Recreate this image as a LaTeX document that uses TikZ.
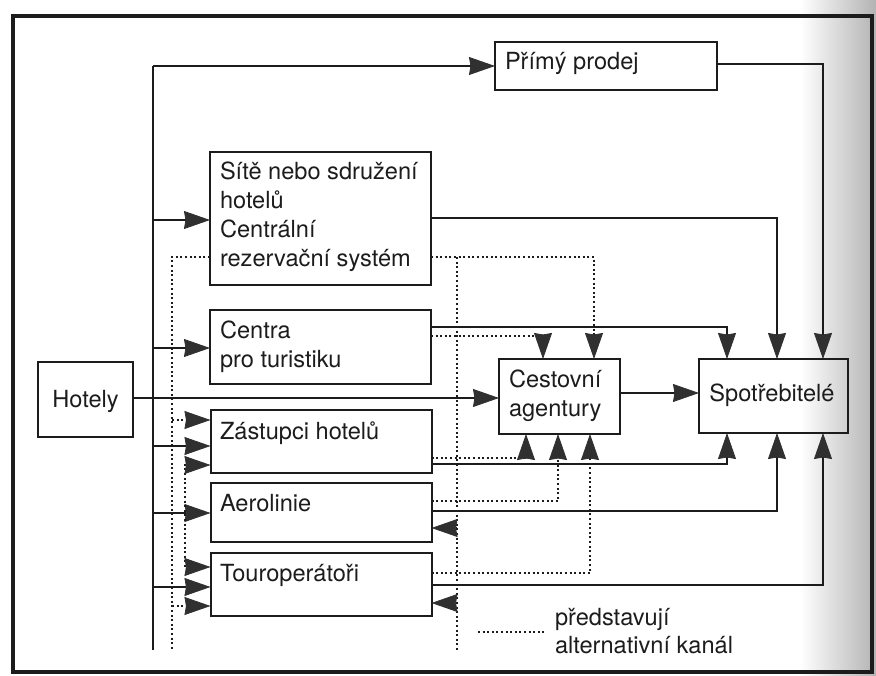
\documentclass[tikz,border=0pt]{standalone}
\usepackage{fontspec}
\setmainfont{TeX Gyre Heros}
\usetikzlibrary{arrows.meta}
\definecolor{ink}{HTML}{1C1C1C}
\definecolor{tipgray}{HTML}{303030}
\begin{document}
\begin{tikzpicture}[x=1pt,y=-1pt,
  box/.style={draw=ink, line width=2pt, rectangle, inner sep=0pt, outer sep=0pt},
  txt/.style={inner sep=0pt, outer sep=0pt, text=ink, font=\fontsize{23.6}{29}\selectfont},
  tip/.style={-{Stealth[length=26pt,width=18pt,inset=1.5pt,line width=0.8pt,color=tipgray]}},
  tipboth/.style={{Stealth[length=26pt,width=18pt,inset=1.5pt,line width=0.8pt,color=tipgray]}-{Stealth[length=26pt,width=18pt,inset=1.5pt,line width=0.8pt,color=tipgray]}},
  conn/.style={draw=ink, line width=2pt},
  alt/.style={draw=ink, line width=2pt, dash pattern=on 2pt off 2.6pt},
]
\useasboundingbox (0,0) rectangle (876,676);

% page edge shadow and outer frame
\shade[left color=white, right color=black!30] (800,0) rectangle (876,676);
\draw[line width=3.5pt, draw=ink] (13,16) rectangle (872,672);

% boxes
\node[box, minimum width=222pt, minimum height=48pt]  (pp)  at (606,66) {};
\node[box, minimum width=221pt, minimum height=133pt] (sit) at (320.5,218.5) {};
\node[box, minimum width=221pt, minimum height=74pt]  (cen) at (320.5,347) {};
\node[box, minimum width=95pt,  minimum height=75pt]  (hot) at (85.5,399.5) {};
\node[box, minimum width=221pt, minimum height=63pt]  (zas) at (321,441.5) {};
\node[box, minimum width=221pt, minimum height=59pt]  (aer) at (321,512.5) {};
\node[box, minimum width=221pt, minimum height=63pt]  (tou) at (321,584.5) {};
\node[box, minimum width=121pt, minimum height=75pt]  (ces) at (559.5,396.5) {};
\node[box, minimum width=149pt, minimum height=74pt]  (spo) at (773.5,396) {};

% box texts
\node[txt, anchor=base west] (ppT)   at (505,70)  {Přímý prodej};
\node[txt, anchor=base west] (sitT1) at (220,180) {Sítě nebo sdružení};
\node[txt, anchor=base west] (sitT2) at (220,209) {hotelů};
\node[txt, anchor=base west] (sitT3) at (220,238) {Centrální};
\node[txt, anchor=base west] (sitT4) at (220,267) {rezervační systém};
\node[txt, anchor=base west] (cenT1) at (220,339) {Centra};
\node[txt, anchor=base west] (cenT2) at (220,368) {pro turistiku};
\node[txt, anchor=base]      (hotT)  at (85.5,407) {Hotely};
\node[txt, anchor=base west] (zasT)  at (220,439) {Zástupci hotelů};
\node[txt, anchor=base west] (aerT)  at (220,511) {Aerolinie};
\node[txt, anchor=base west] (touT)  at (220,581) {Touroperátoři};
\node[txt, anchor=base west] (cesT1) at (509,388) {Cestovní};
\node[txt, anchor=base west] (cesT2) at (509,417) {agentury};
\node[txt, anchor=base]      (spoT)  at (772,402) {Spotřebitelé};

% hotel distribution bus
\coordinate (busTop) at (153,66);
\coordinate (busBot) at (153,650);
\draw[conn] (busBot) -- (busTop);
\draw[conn,tip] (busTop) -- (pp.west);
\draw[conn,tip] (busBot |- 0,220) -- (sit.west |- 0,220);
\draw[conn,tip] (busBot |- 0,348) -- (cen.west |- 0,348);
\draw[conn,tip] (busBot |- 0,446) -- (zas.west |- 0,446);
\draw[conn,tip] (busBot |- 0,513) -- (aer.west |- 0,513);
\draw[conn,tip] (busBot |- 0,587) -- (tou.west |- 0,587);
\draw[conn,tip] (hot.east |- 0,398) -- (ces.west |- 0,398);

% solid channels to consumers
\draw[conn,tip] (pp.east |- 0,64)   -| (spo.north -| 823,0);
\draw[conn,tip] (sit.east |- 0,218) -| (spo.north -| 777,0);
\draw[conn,tip] (cen.east |- 0,327) -| (spo.north -| 727,0);
\draw[conn,tip] (zas.east |- 0,464) -| (spo.south -| 727,0);
\draw[conn,tip] (aer.east |- 0,511) -| (spo.south -| 777,0);
\draw[conn,tip] (tou.east |- 0,585) -| (spo.south -| 823,0);
\draw[conn,tip] (ces.east |- 0,393) -- (spo.west |- 0,393);

% alternative channels (dotted), left side
\coordinate (altL) at (172,650);
\draw[alt] (sit.west |- 0,257) -| (altL);
\draw[alt,tip] (altL |- 0,420) -- (zas.west |- 0,420);
\draw[alt,tip] (altL |- 0,606) -- (tou.west |- 0,606);
\draw[alt,tipboth] (zas.west |- 0,465) -- (185,465) -- (185,567) -- (tou.west |- 0,567);

% alternative channels (dotted), right side
\coordinate (altR) at (457,650);
\draw[alt,tip] (sit.east |- 0,257) -| (ces.north -| 594,0);
\draw[alt] (altR |- 0,257) -- (altR);
\draw[alt,tip] (altR |- 0,528) -- (aer.east |- 0,528);
\draw[alt,tip] (altR |- 0,603) -- (tou.east |- 0,603);
\draw[alt,tip] (cen.east |- 0,336) -| (ces.north -| 543,0);
\draw[alt,tip] (zas.east |- 0,458) -| (ces.south -| 526,0);
\draw[alt,tip] (aer.east |- 0,501) -| (ces.south -| 558,0);
\draw[alt,tip] (tou.east |- 0,573) -| (ces.south -| 590,0);

% legend
\coordinate (legA) at (478,632);
\coordinate (legB) at (545,632);
\draw[alt] (legA) -- (legB);
\node[txt, anchor=base west] (legT1) at (555,625) {představují};
\node[txt, anchor=base west] (legT2) at (555,653) {alternativní kanál};
\end{tikzpicture}
\end{document}
